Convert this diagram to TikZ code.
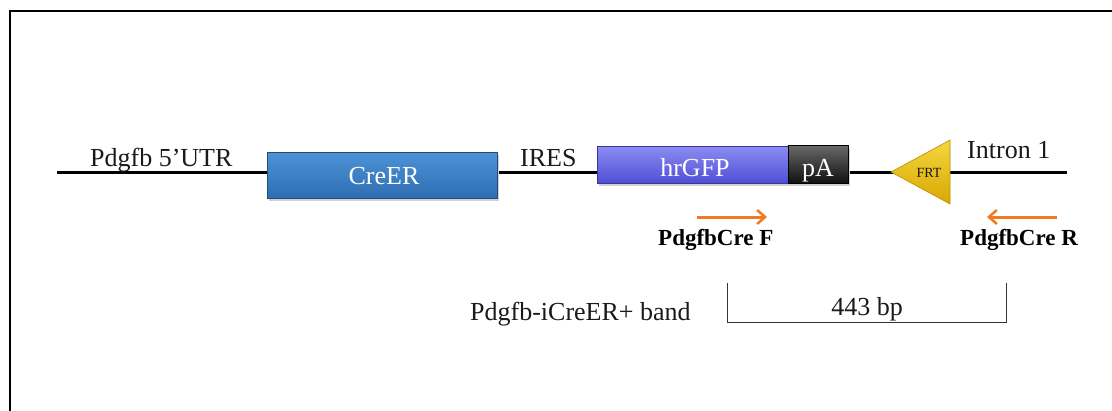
\documentclass[tikz,border=0pt]{standalone}
\usepackage{fontspec}
\setmainfont{Liberation Serif}
\usetikzlibrary{arrows.meta}
\definecolor{txt}{HTML}{1A1A1A}
\definecolor{creTop}{HTML}{4C93D6}
\definecolor{creBot}{HTML}{2F6DB2}
\definecolor{gfpTop}{HTML}{8C8CF2}
\definecolor{gfpBot}{HTML}{4F4FD6}
\definecolor{paTop}{HTML}{6A6A6A}
\definecolor{paBot}{HTML}{101010}
\definecolor{frtTop}{HTML}{F5D640}
\definecolor{frtBot}{HTML}{D8A800}
\definecolor{primer}{HTML}{F07A22}
\tikzset{
  lbl/.style={font=\fontsize{26}{30}\selectfont, text=txt, inner sep=0pt, anchor=base west},
  boxlbl/.style={font=\fontsize{26}{30}\selectfont, text=white, inner sep=0pt, anchor=base},
  plbl/.style={font=\fontsize{23}{27}\selectfont\bfseries, text=black, inner sep=0pt, anchor=base west},
  gene/.style={rectangle, inner sep=0pt, draw=#1!70!black, line width=0.6pt},
  primerarrow/.style={draw=primer, line width=3pt, -{Straight Barb[length=8pt,width=14pt,line width=2.5pt]}},
}
\begin{document}
\begin{tikzpicture}[x=1pt,y=-1pt]
\useasboundingbox (0,0) rectangle (1112,410);
\fill[white] (0,0) rectangle (1112,410);
% frame (left and top edges visible)
\coordinate (fbl) at (10,412);
\coordinate (ftl) at (10,11);
\coordinate (ftr) at (1114,11);
\draw[line width=2.5pt, black] (fbl) -- (ftl) -- (ftr);

% backbone
\coordinate (bbL) at (57,172);
\coordinate (bbR) at (1067,172);
\draw[line width=3pt, black] (bbL) -- (bbR);

% shadows
\fill[black!18] (269,155) rectangle (499,201);
\fill[black!18] (599,149) rectangle (850,186);

% genes
\node[gene=creBot, top color=creTop, bottom color=creBot, minimum width=230pt, minimum height=46pt] (cre) at (382,175) {};
\node[boxlbl] (creL) at (384,184) {CreER};
\node[gene=gfpBot, top color=gfpTop, bottom color=gfpBot, minimum width=191pt, minimum height=37pt] (gfp) at (692.5,164.5) {};
\node[boxlbl] (gfpL) at (695,176) {hrGFP};
\node[gene=paBot, top color=paTop, bottom color=paBot, minimum width=60pt, minimum height=38pt, draw=black] (pa) at (818,164) {};
\node[boxlbl] (paL) at (818,176) {pA};

% FRT triangle
\coordinate (frtTip) at (891,172);
\coordinate (frtT) at (950,140);
\coordinate (frtB) at (950,204);
\shade[top color=frtTop, bottom color=frtBot, draw=frtBot!85!black, line width=0.6pt] (frtTip) -- (frtT) -- (frtB) -- cycle;
\node[font=\fontsize{14}{16}\selectfont, text=txt, inner sep=0pt] (frt) at (929,173) {FRT};

% region labels
\node[lbl] (utr) at (90,166) {Pdgfb 5’UTR};
\node[lbl] (ires) at (520,166) {IRES};
\node[lbl] (intron) at (967,158) {Intron 1};

% primers
\coordinate (fS) at (697,217);
\coordinate (fE) at (767,217);
\coordinate (rS) at (1057,217);
\coordinate (rE) at (987,217);
\draw[primerarrow] (fS) -- (fE);
\draw[primerarrow] (rS) -- (rE);
\node[plbl] (pF) at (658,245) {PdgfbCre F};
\node[plbl] (pR) at (960,245) {PdgfbCre R};

% band
\node[lbl] (band) at (470,320) {Pdgfb-iCreER+ band};
\coordinate (brTL) at (727,283);
\coordinate (brBL) at (727,322);
\coordinate (brBR) at (1006,322);
\coordinate (brTR) at (1006,283);
\draw[line width=1pt, black!80] (brTL) -- (brBL) -- (brBR) -- (brTR);
\node[boxlbl, text=txt] (bp) at (867,315) {443 bp};
\end{tikzpicture}
\end{document}
